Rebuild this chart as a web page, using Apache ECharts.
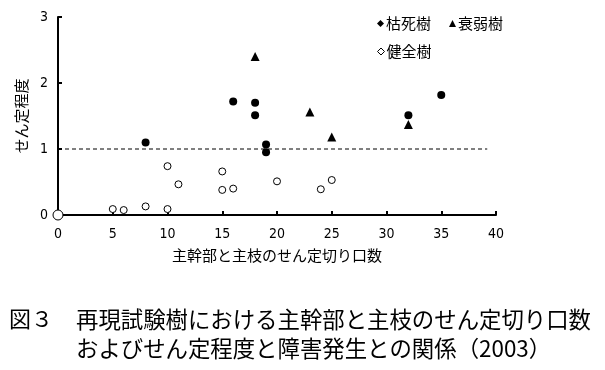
<!DOCTYPE html>
<html><head><meta charset="utf-8">
<script src="https://cdn.jsdelivr.net/npm/echarts@6/dist/echarts.min.js"></script>
<style>html,body{margin:0;padding:0;background:#fff;}#c{width:605px;height:370px;}</style>
</head><body><div id="c"></div>
<script>
// Data: [cuts, pruning degree]
const deadTrees = [[8,1.10],[16,1.72],[18,1.70],[18,1.51],[19,1.07],[19,0.95],[32,1.51],[35,1.82]];
const weakTrees = [[18,2.40],[23,1.56],[25,1.18],[32,1.37]];
const healthyTrees = [[0,0],[5,0.09],[6,0.075],[8,0.13],[10,0.09],[10,0.74],[11,0.465],[15,0.66],[15,0.38],[16,0.40],[20,0.51],[24,0.39],[25,0.53]];
const thresholdLine = [[0,1],[39.2,1]];
const seriesNames = ['枯死樹','衰弱樹','健全樹'];
const xName = '主幹部と主枝のせん定切り口数';
const yName = 'せん定程度';
const figLabel = '図３';
const captionLines = ['再現試験樹における主幹部と主枝のせん定切り口数','およびせん定程度と障害発生との関係（2003）'];

const jp = '"Noto Sans CJK JP", sans-serif';
const chart = echarts.init(document.getElementById('c'), null, {renderer:'canvas'});
chart.setOption({
  animation:false,
  backgroundColor:'#fff',
  grid:{left:58,right:109,top:17,bottom:155},
  legend:[
    {data:[{name:seriesNames[0],icon:'diamond'},{name:seriesNames[1],icon:'triangle'}],left:372,top:11,itemWidth:7,itemHeight:7,itemGap:18,
     textStyle:{fontFamily:jp,fontSize:15,color:'#000',padding:[0,0,0,-3]}},
    {data:[{name:seriesNames[2],icon:'diamond',itemStyle:{color:'#fff',borderColor:'#000',borderWidth:1}}],left:372,top:39,itemWidth:7,itemHeight:7,
     textStyle:{fontFamily:jp,fontSize:15,color:'#000',padding:[0,0,0,-3]}}
  ],
  xAxis:{type:'value',min:0,max:40,interval:5,
    name:xName,nameLocation:'middle',nameGap:33,
    nameTextStyle:{fontFamily:jp,fontSize:15,color:'#000'},
    axisLine:{show:true,lineStyle:{color:'#000',width:2,opacity:1}},
    axisTick:{show:true,inside:true,length:4,lineStyle:{color:'#000',width:2}},
    axisLabel:{color:'#000',fontSize:14,margin:12,fontFamily:'"Liberation Sans Narrow","DejaVu Sans Condensed",sans-serif'},
    splitLine:{show:false}},
  yAxis:{type:'value',min:0,max:3,interval:1,
    name:yName,nameLocation:'middle',nameGap:26,
    nameTextStyle:{fontFamily:jp,fontSize:15,color:'#000'},
    axisLine:{show:true,lineStyle:{color:'#000',width:2,opacity:1}},
    axisTick:{show:true,inside:true,length:4,lineStyle:{color:'#000',width:2}},
    axisLabel:{color:'#000',fontSize:14,margin:10,fontFamily:'"Liberation Sans Narrow","DejaVu Sans Condensed",sans-serif'},
    splitLine:{show:false}},
  graphic:[
    {type:'text',x:9,y:319,style:{text:figLabel,fontFamily:'Noto Sans CJK JP',fontSize:22,fill:'#000',verticalAlign:'middle'}},
    {type:'text',x:76,y:319,style:{text:captionLines[0],fontFamily:'Noto Sans CJK JP',fontSize:22.4,fill:'#000',verticalAlign:'middle'}},
    {type:'text',x:76,y:348,style:{text:captionLines[1],fontFamily:'Noto Sans CJK JP',fontSize:22.4,fill:'#000',verticalAlign:'middle'}}
  ],
  series:[
    {type:'line',data:thresholdLine,symbol:'none',silent:true,lineStyle:{color:'#000',width:1,type:[4,3]},z:1},
    {name:seriesNames[0],type:'scatter',data:deadTrees,symbol:'circle',symbolSize:8,itemStyle:{color:'#000',opacity:1},z:3},
    {name:seriesNames[1],type:'scatter',data:weakTrees,symbol:'triangle',symbolSize:9,itemStyle:{color:'#000',opacity:1},z:3},
    {name:seriesNames[2],type:'scatter',data:healthyTrees,symbol:'circle',
      symbolSize:function(v){return v[0]===0?10:7;},
      itemStyle:{color:'#fff',borderColor:'#000',borderWidth:1,opacity:1},z:4}
  ]
});
</script></body></html>
